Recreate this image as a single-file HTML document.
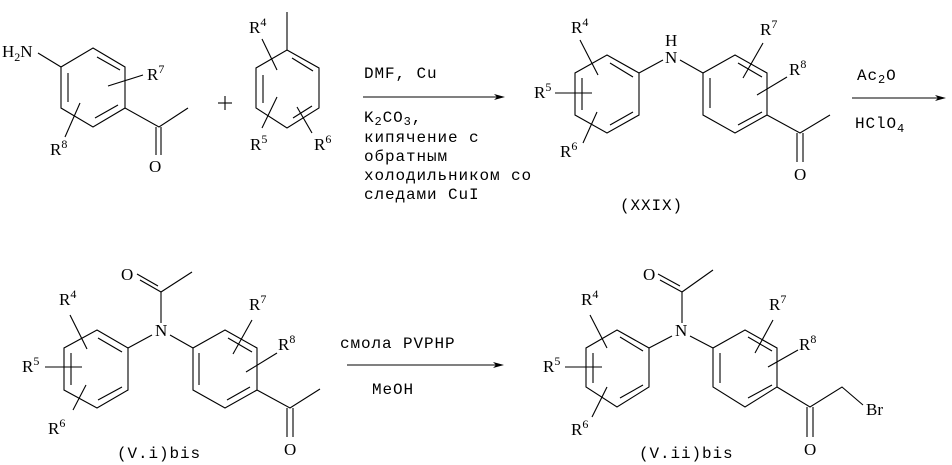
<!DOCTYPE html>
<html><head><meta charset="utf-8"><style>
html,body{margin:0;padding:0;background:#fff;}
svg{display:block;}
text{font-family:"Liberation Mono","Noto Sans CJK SC",monospace;font-size:15px;fill:#000;}
.r{font-family:"Liberation Serif",serif;font-size:17px;}
.s{font-size:12px;}
.c{font-size:16px;letter-spacing:0.9px;}
.c .s{font-size:12px;}
</style></head><body>
<svg width="952" height="465" viewBox="0 0 952 465" xmlns="http://www.w3.org/2000/svg">
<g stroke="#000" stroke-width="1.1" fill="none">
<!-- Ring A -->
<polygon points="93,48 125,67 125,108 93,127 61,108 61,67"/>
<line x1="97" y1="57" x2="120" y2="70"/><line x1="68" y1="73" x2="68" y2="102"/><line x1="95" y1="118" x2="118" y2="105"/>
<line x1="38" y1="53" x2="61" y2="67"/>
<line x1="108" y1="86" x2="143" y2="75"/><line x1="80" y1="103" x2="65" y2="137"/>
<polyline points="125,108 159,127 188,108"/>
<line x1="156" y1="127" x2="156" y2="155"/><line x1="161" y1="127" x2="161" y2="155"/>
<!-- plus -->
<line x1="218" y1="103" x2="232" y2="103"/><line x1="225" y1="96" x2="225" y2="110"/>
<!-- Ring B -->
<polygon points="287,50 319,68 319,108 287,128 256,108 256,68"/>
<line x1="292" y1="58" x2="313" y2="71"/><line x1="263" y1="75" x2="263" y2="103"/><line x1="293" y1="118" x2="312" y2="106"/>
<line x1="287" y1="12" x2="287" y2="50"/>
<line x1="262" y1="39" x2="277" y2="70"/><line x1="277" y1="97" x2="262" y2="128"/><line x1="297" y1="107" x2="312" y2="133"/>
<!-- Arrow 1 -->
<line x1="363" y1="97" x2="500" y2="97"/>
<!-- Ring C -->
<polygon points="607,55 639,73 639,115 607,133 575,115 575,73"/>
<line x1="610" y1="63" x2="633" y2="77"/><line x1="582" y1="78" x2="582" y2="110"/><line x1="610" y1="125" x2="633" y2="112"/>
<line x1="639" y1="73" x2="663" y2="60"/><line x1="680" y1="60" x2="703" y2="73"/>
<!-- Ring D -->
<polygon points="735,55 767,73 767,115 735,133 703,115 703,73"/>
<line x1="738" y1="63" x2="762" y2="77"/><line x1="710" y1="78" x2="710" y2="108"/><line x1="738" y1="125" x2="762" y2="112"/>
<polyline points="767,115 800,133 830,115"/>
<line x1="797" y1="133" x2="797" y2="162"/><line x1="803" y1="133" x2="803" y2="162"/>
<line x1="580" y1="40" x2="598" y2="75"/><line x1="555" y1="93" x2="592" y2="93"/><line x1="597" y1="112" x2="583" y2="143"/>
<line x1="763" y1="43" x2="743" y2="78"/><line x1="787" y1="77" x2="757" y2="95"/>
<!-- Arrow 2 -->
<line x1="852" y1="98" x2="940" y2="98"/>
<!-- Ring E -->
<polygon points="97,330 128,348 128,390 97,408 64,390 64,348"/>
<line x1="98" y1="338" x2="122" y2="352"/><line x1="71" y1="353" x2="71" y2="385"/><line x1="98" y1="400" x2="122" y2="387"/>
<line x1="128" y1="348" x2="152" y2="335"/><line x1="170" y1="335" x2="193" y2="348"/>
<line x1="161" y1="323" x2="161" y2="292"/><line x1="161" y1="292" x2="192" y2="272"/>
<line x1="161" y1="292" x2="140" y2="280"/><line x1="158" y1="286" x2="137" y2="274"/>
<!-- Ring F -->
<polygon points="225,330 257,348 257,390 225,408 193,390 193,348"/>
<line x1="228" y1="338" x2="252" y2="352"/><line x1="199" y1="353" x2="199" y2="385"/><line x1="227" y1="400" x2="250" y2="387"/>
<polyline points="257,390 290,408 320,389"/>
<line x1="287" y1="408" x2="287" y2="437"/><line x1="293" y1="408" x2="293" y2="437"/>
<line x1="70" y1="315" x2="87" y2="349"/><line x1="45" y1="367" x2="82" y2="367"/><line x1="86" y1="385" x2="73" y2="410"/>
<line x1="252" y1="320" x2="233" y2="354"/><line x1="277" y1="353" x2="246" y2="372"/>
<!-- Arrow 3 -->
<line x1="347" y1="365" x2="498" y2="365"/>
<!-- Ring G -->
<polygon points="617,330 649,348 649,387 617,407 586,387 586,348"/>
<line x1="620" y1="337" x2="643" y2="351"/><line x1="593" y1="353" x2="593" y2="383"/><line x1="620" y1="398" x2="643" y2="385"/>
<line x1="649" y1="348" x2="672" y2="336"/><line x1="690" y1="336" x2="713" y2="348"/>
<line x1="682" y1="323" x2="682" y2="292"/><line x1="682" y1="292" x2="713" y2="270"/>
<line x1="682" y1="292" x2="660" y2="280"/><line x1="680" y1="286" x2="658" y2="274"/>
<!-- Ring H -->
<polygon points="745,330 777,348 777,387 745,407 713,387 713,348"/>
<line x1="748" y1="337" x2="772" y2="351"/><line x1="720" y1="353" x2="720" y2="383"/><line x1="748" y1="398" x2="772" y2="385"/>
<polyline points="777,387 810,407 842,387 863,405"/>
<line x1="807" y1="407" x2="807" y2="437"/><line x1="813" y1="407" x2="813" y2="437"/>
<line x1="590" y1="315" x2="607" y2="348"/><line x1="565" y1="367" x2="602" y2="367"/><line x1="607" y1="387" x2="592" y2="417"/>
<line x1="773" y1="320" x2="755" y2="353"/><line x1="798" y1="350" x2="768" y2="367"/>
</g>
<g fill="#000">
<polygon points="505,97 494,94 497,97 494,100"/>
<polygon points="946,98 935,95 938,98 935,101"/>
<polygon points="504,365 493,362 496,365 493,368"/>
</g>
<!-- labels -->
<text x="2" y="57" class="r">H<tspan class="s" dy="4">2</tspan><tspan dy="-4">N</tspan></text>
<text x="147" y="80" class="r">R<tspan class="s" dy="-7">7</tspan></text>
<text x="50" y="155" class="r">R<tspan class="s" dy="-7">8</tspan></text>
<text x="149" y="172" class="r">O</text>
<text x="249" y="33" class="r">R<tspan class="s" dy="-7">4</tspan></text>
<text x="250" y="150" class="r">R<tspan class="s" dy="-7">5</tspan></text>
<text x="314" y="150" class="r">R<tspan class="s" dy="-7">6</tspan></text>

<text x="364" y="78" class="c">DMF, Cu</text>
<text x="364" y="122" class="c">K<tspan class="s" dy="3">2</tspan><tspan dy="-3">CO</tspan><tspan class="s" dy="3">3</tspan><tspan dy="-3">,</tspan></text>
<text x="364" y="142" class="c">кипячение с</text>
<text x="364" y="161" class="c">обратным</text>
<text x="364" y="180" class="c">холодильником со</text>
<text x="364" y="199" class="c">следами CuI</text>

<text x="571" y="33" class="r">R<tspan class="s" dy="-7">4</tspan></text>
<text x="534" y="98" class="r">R<tspan class="s" dy="-7">5</tspan></text>
<text x="560" y="157" class="r">R<tspan class="s" dy="-7">6</tspan></text>
<text x="665" y="46" class="r">H</text>
<text x="665" y="63" class="r">N</text>
<text x="760" y="35" class="r">R<tspan class="s" dy="-7">7</tspan></text>
<text x="789" y="75" class="r">R<tspan class="s" dy="-7">8</tspan></text>
<text x="794" y="180" class="r">O</text>
<text x="620" y="210" class="c">(XXIX)</text>
<text x="857" y="80" class="c">Ac<tspan class="s" dy="3">2</tspan><tspan dy="-3">O</tspan></text>
<text x="855" y="128" class="c">HClO<tspan class="s" dy="4">4</tspan></text>

<text x="121" y="280" class="r">O</text>
<text x="155" y="336" class="r">N</text>
<text x="59" y="305" class="r">R<tspan class="s" dy="-7">4</tspan></text>
<text x="22" y="372" class="r">R<tspan class="s" dy="-7">5</tspan></text>
<text x="48" y="434" class="r">R<tspan class="s" dy="-7">6</tspan></text>
<text x="249" y="310" class="r">R<tspan class="s" dy="-7">7</tspan></text>
<text x="278" y="350" class="r">R<tspan class="s" dy="-7">8</tspan></text>
<text x="284" y="455" class="r">O</text>
<text x="117" y="458" class="c">(V.i)bis</text>

<text x="340" y="348" class="c">смола PVPHP</text>
<text x="372" y="394" class="c">MeOH</text>

<text x="643" y="280" class="r">O</text>
<text x="675" y="336" class="r">N</text>
<text x="581" y="305" class="r">R<tspan class="s" dy="-7">4</tspan></text>
<text x="543" y="372" class="r">R<tspan class="s" dy="-7">5</tspan></text>
<text x="571" y="435" class="r">R<tspan class="s" dy="-7">6</tspan></text>
<text x="769" y="310" class="r">R<tspan class="s" dy="-7">7</tspan></text>
<text x="799" y="350" class="r">R<tspan class="s" dy="-7">8</tspan></text>
<text x="866" y="415" class="r">Br</text>
<text x="804" y="455" class="r">O</text>
<text x="639" y="458" class="c">(V.ii)bis</text>
</svg>
</body></html>
